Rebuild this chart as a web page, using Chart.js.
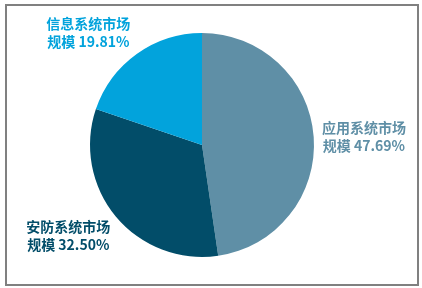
<!DOCTYPE html>
<html>
<head>
<meta charset="utf-8">
<script src="https://cdn.jsdelivr.net/npm/chart.js@4"></script>
<style>
  html, body { margin: 0; padding: 0; background: #fff; }
  #wrap { position: relative; width: 422px; height: 288px; }
  #frame { position: absolute; left: 5px; top: 4px; width: 410px; height: 278px; border: 2px solid #808080; }
  canvas { position: absolute; left: 0; top: 0; }
</style>
</head>
<body>
<div id="wrap">
  <div id="frame"></div>
  <canvas id="pieChart" width="422" height="288"></canvas>
</div>
<script>
// Market share by segment
const categories = ['应用系统市场规模', '安防系统市场规模', '信息系统市场规模'];
const shares = [47.69, 32.50, 19.81];
const sliceColors = ['#5f8fa6', '#024d69', '#02a3dc'];

// label text split into two lines, plus where each sits relative to its slice
const labelLines = [['应用系统市场', '规模 47.69%'], ['安防系统市场', '规模 32.50%'], ['信息系统市场', '规模 19.81%']];
const labelNudge = [[0, 3], [-9, -13], [-19, 20]];

// Draw labels outside each slice, along its middle angle
const outsideLabels = {
    id: 'outsideLabels',
    afterDatasetsDraw(chart) {
        const ctx = chart.ctx;
        const arcs = chart.getDatasetMeta(0).data;
        ctx.save();
        ctx.font = 'bold 14px "Noto Sans CJK SC", "Noto Sans", sans-serif';
        ctx.textAlign = 'center';
        ctx.textBaseline = 'middle';
        arcs.forEach((arc, i) => {
            const mid = (arc.startAngle + arc.endAngle) / 2;
            const dist = arc.outerRadius * 1.45;
            const x = arc.x + Math.cos(mid) * dist + labelNudge[i][0];
            const y = arc.y + Math.sin(mid) * dist + labelNudge[i][1];
            ctx.fillStyle = sliceColors[i];
            ctx.fillText(labelLines[i][0], x, y - 9);
            ctx.fillText(labelLines[i][1], x, y + 9);
        });
        ctx.restore();
    }
};

const ctx = document.getElementById('pieChart').getContext('2d');
new Chart(ctx, {
    type: 'pie',
    data: {
        labels: categories,
        datasets: [{
            data: shares,
            backgroundColor: sliceColors,
            borderWidth: 0
        }]
    },
    options: {
        responsive: false,
        animation: false,
        layout: {
            padding: { left: 90, right: 108, top: 33, bottom: 31 }
        },
        plugins: {
            legend: { display: false },
            tooltip: { enabled: false }
        }
    },
    plugins: [outsideLabels]
});
</script>
</body>
</html>
